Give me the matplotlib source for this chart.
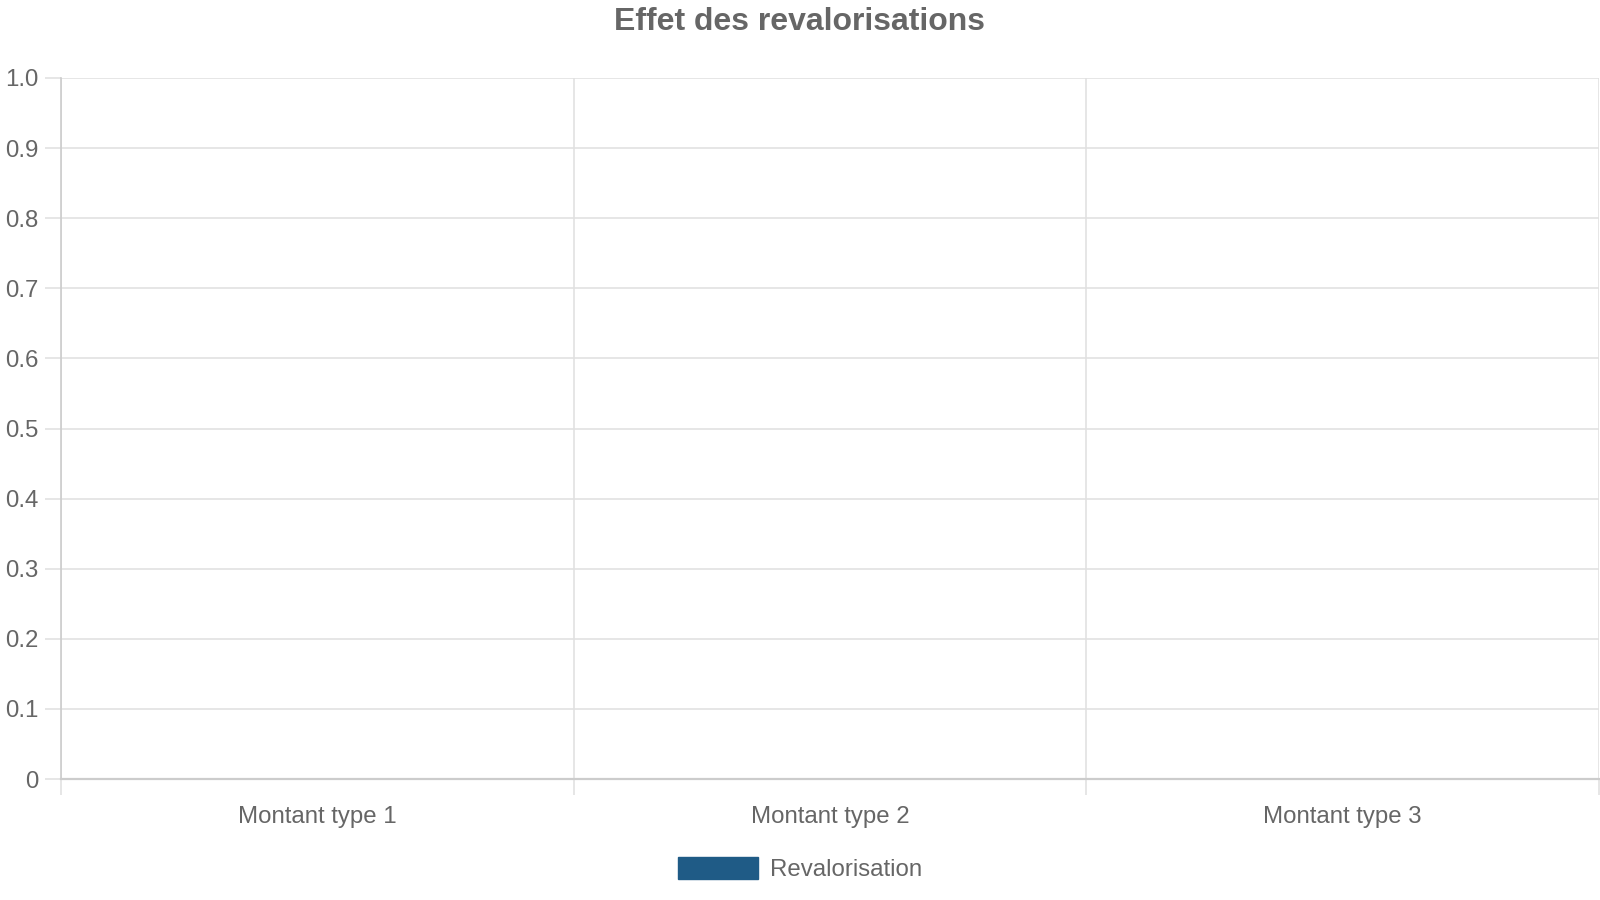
import matplotlib
matplotlib.use("Agg")
import matplotlib.pyplot as plt
from matplotlib.patches import Patch
import numpy as np

# data
categories = ["Montant type 1", "Montant type 2", "Montant type 3"]
revalorisation = [0, 0, 0]
series_label = "Revalorisation"
title = "Effet des revalorisations"
y_ticks = [0, 0.1, 0.2, 0.3, 0.4, 0.5, 0.6, 0.7, 0.8, 0.9, 1.0]
y_tick_labels = ["0", "0.1", "0.2", "0.3", "0.4", "0.5", "0.6", "0.7", "0.8", "0.9", "1.0"]

TEXT = "#666666"
GRID = "#e1e1e1"
AXIS = "#cccccc"
BAR = "#1f5b86"
FS = 17.3

plt.rcParams['font.family'] = ['Liberation Sans', 'DejaVu Sans']

W, H = 1600, 900
fig = plt.figure(figsize=(16, 9), dpi=100)
ax = fig.add_axes([61 / W, 1 - 779 / H, (1599 - 61) / W, (779 - 78) / H])

x = np.arange(len(categories))
ax.bar(x, revalorisation, width=0.8, color=BAR, label=series_label, zorder=3)

ax.set_xlim(-0.5, len(categories) - 0.5)
ax.set_ylim(0, 1.0)

# y axis
ax.set_yticks(y_ticks)
ax.set_yticklabels(y_tick_labels)
ax.tick_params(axis='y', length=11.5, width=1.2, color=GRID, labelsize=FS,
               labelcolor=TEXT, pad=5)
ax.yaxis.grid(True, color=GRID, linewidth=1.2)

# x axis: labels at centres, gridlines/ticks at category boundaries
ax.set_xticks(x)
ax.set_xticklabels(categories)
ax.set_xticks(np.arange(len(categories) + 1) - 0.5, minor=True)
ax.tick_params(axis='x', which='major', length=0, labelsize=FS,
               labelcolor=TEXT, pad=19.5)
ax.tick_params(axis='x', which='minor', length=11.5, width=1.2, color=GRID)
ax.xaxis.grid(True, which='minor', color=GRID, linewidth=1.2)
ax.set_axisbelow(True)

for side in ['top', 'right']:
    ax.spines[side].set_visible(False)
ax.spines['left'].set_color(AXIS)
ax.spines['left'].set_linewidth(1.2)
ax.spines['bottom'].set_color(AXIS)
ax.spines['bottom'].set_linewidth(1.6)

fig.text(0.5, 1 - 21.5 / H, title, ha='center', va='center',
         fontsize=23, fontweight='bold', color=TEXT)

handle = Patch(facecolor=BAR, edgecolor=BAR, label=series_label)
fig.legend(handles=[handle], loc='center', bbox_to_anchor=(800 / W, 1 - 869 / H),
           frameon=False, fontsize=FS, labelcolor=TEXT,
           handlelength=3.33, handleheight=1.0, handletextpad=0.5)

fig.savefig("out.png", dpi=100)
